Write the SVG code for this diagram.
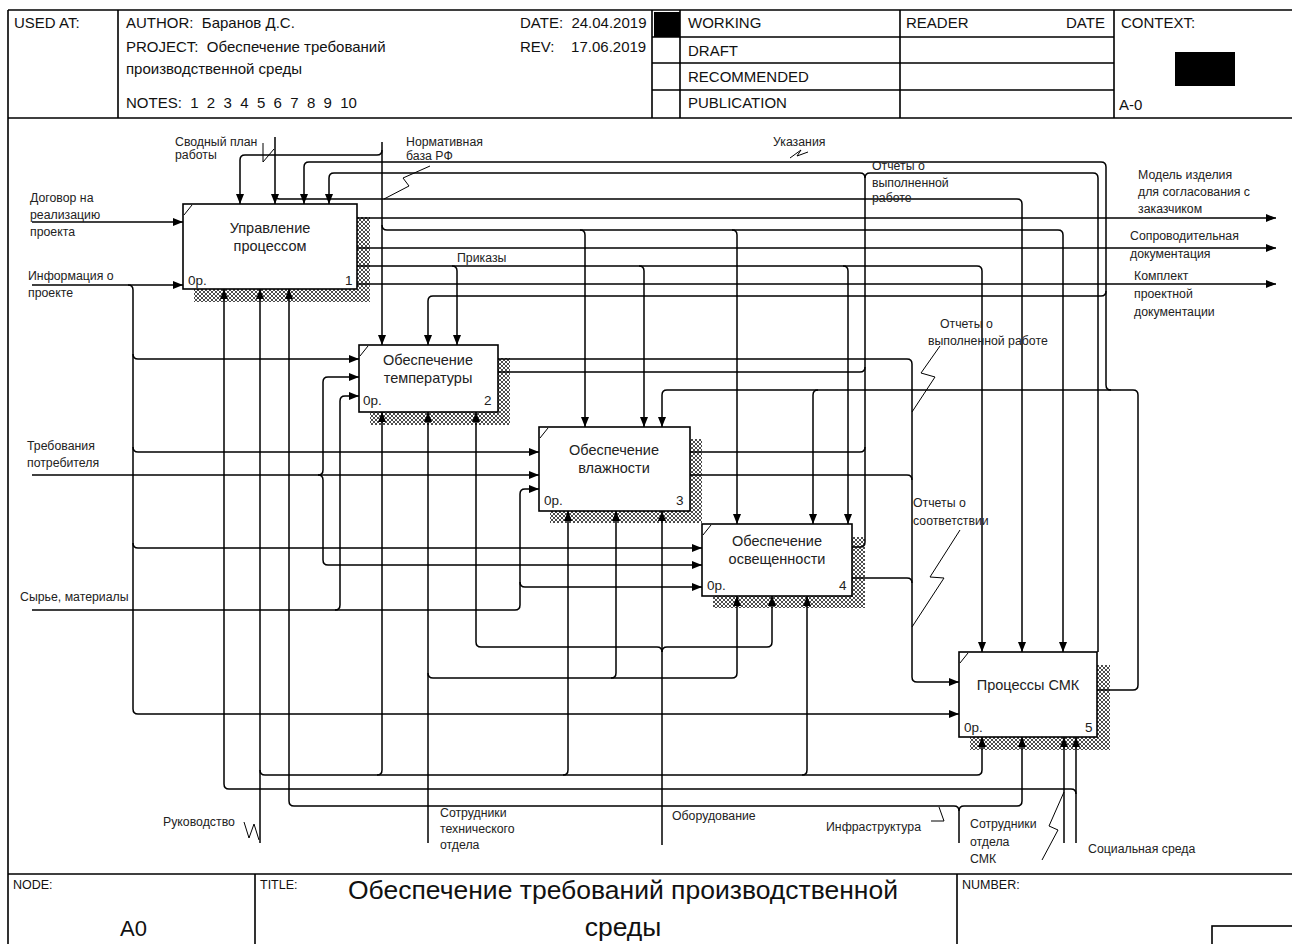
<svg xmlns="http://www.w3.org/2000/svg" width="1292" height="944" viewBox="0 0 1292 944">
<style>
.ln{fill:none;stroke:#000;stroke-width:1.5}
.ar{marker-end:url(#ah)}
.sq{fill:none;stroke:#000;stroke-width:1}
.fr{fill:none;stroke:#000;stroke-width:1.6}
.box{fill:#fff;stroke:#000;stroke-width:1.6}
.shd{fill:url(#hatch)}
text{font-family:"Liberation Sans",Arial,sans-serif;fill:#222}
.t{font-size:12.3px}
.bt{font-size:14.5px;text-anchor:middle}
.bn{font-size:13.5px}
.h{font-size:15px;fill:#111;white-space:pre}
.f{font-size:12.5px;fill:#111}
</style>
<defs>
<marker id="ah" viewBox="0 0 10 8" refX="10" refY="4" markerWidth="10" markerHeight="8" markerUnits="userSpaceOnUse" orient="auto"><path d="M0,0 L10,4 L0,8 z" fill="#000"/></marker>
<pattern id="hatch" width="4" height="4" patternUnits="userSpaceOnUse"><rect width="4" height="4" fill="#fff"/><path d="M0,0 L4,4 M4,0 L0,4" stroke="#000" stroke-width="0.7"/></pattern>
</defs>
<rect width="1292" height="944" fill="#fff"/>

<g id="frame">
<path class="fr" d="M8,10 H1292 M8,10 V944 M8,118 H1292 M118,10 V118 M652,10 V118 M680,10 V118 M900,10 V118 M1114,10 V118 M652,37 H1114 M652,63 H1114 M652,90 H1114"/>
<rect x="654" y="12" width="26" height="25" fill="#000"/>
<rect x="1175" y="52" width="60" height="34" fill="#000"/>
<text class="h" x="14" y="28">USED AT:</text>
<text class="h" x="126" y="28" xml:space="preserve">AUTHOR:  Баранов Д.С.</text>
<text class="h" x="126" y="52" xml:space="preserve">PROJECT:  Обеспечение требований</text>
<text class="h" x="126" y="74">производственной среды</text>
<text class="h" x="126" y="108" xml:space="preserve">NOTES:  1  2  3  4  5  6  7  8  9  10</text>
<text class="h" x="520" y="28" xml:space="preserve">DATE:  24.04.2019</text>
<text class="h" x="520" y="52" xml:space="preserve">REV:    17.06.2019</text>
<text class="h" x="688" y="28">WORKING</text>
<text class="h" x="688" y="56">DRAFT</text>
<text class="h" x="688" y="82">RECOMMENDED</text>
<text class="h" x="688" y="108">PUBLICATION</text>
<text class="h" x="906" y="28">READER</text>
<text class="h" x="1066" y="28">DATE</text>
<text class="h" x="1121" y="28">CONTEXT:</text>
<text class="h" x="1119" y="110">A-0</text>
<path class="fr" d="M8,874 H1292 M255,874 V944 M957,874 V944"/>
<rect x="1212" y="926" width="82" height="20" class="fr"/>
<text class="f" x="13" y="889">NODE:</text>
<text x="120" y="936" style="font-size:22px;fill:#111">A0</text>
<text class="f" x="260" y="889">TITLE:</text>
<text x="623" y="899" text-anchor="middle" style="font-size:26.5px;fill:#111">Обеспечение требований производственной</text>
<text x="623" y="936" text-anchor="middle" style="font-size:26.5px;fill:#111">среды</text>
<text class="f" x="962" y="889">NUMBER:</text>
</g>

<g id="shadows">
<rect class="shd" x="194" y="217" width="176" height="85"/>
<rect class="shd" x="370" y="358" width="140" height="67"/>
<rect class="shd" x="550" y="439" width="152" height="84"/>
<rect class="shd" x="713" y="537" width="152" height="71"/>
<rect class="shd" x="970" y="665" width="140" height="85"/>
</g>

<g id="connectors">
<path class="ln ar" d="M32,222 H183"/>
<path class="ln ar" d="M32,285 H183"/>
<path class="ln ar" d="M128,285 Q133,285 133,290 V709 Q133,714 138,714 H959"/>
<path class="ln ar" d="M133,354 Q133,359 138,359 H359"/>
<path class="ln ar" d="M133,447 Q133,452 138,452 H539"/>
<path class="ln ar" d="M133,543 Q133,548 138,548 H702"/>
<path class="ln ar" d="M32,475 H539"/>
<path class="ln ar" d="M318,475 Q323,475 323,470 V382 Q323,377 328,377 H359"/>
<path class="ln ar" d="M318,475 Q323,475 323,480 V560 Q323,565 328,565 H702"/>
<path class="ln ar" d="M32,610 H515 Q520,610 520,605 V494 Q520,489 525,489 H539"/>
<path class="ln ar" d="M520,582 Q520,587 525,587 H702"/>
<path class="ln ar" d="M335,610 Q340,610 340,605 V401 Q340,396 345,396 H359"/>

<path class="ln ar" d="M275,137 V204"/>
<path class="ln ar" d="M275,194 Q275,199 280,199 H1017 Q1022,199 1022,204 V652"/>
<path class="ln ar" d="M382,142 V345"/>
<path class="ln ar" d="M382,150 Q382,155 377,155 H245 Q240,155 240,160 V204"/>
<path class="ln ar" d="M382,225 Q382,230 387,230 H1058 Q1063,230 1063,235 V652"/>
<path class="ln ar" d="M580,230 Q585,230 585,235 V427"/>
<path class="ln ar" d="M732,230 Q737,230 737,235 V524"/>

<path class="ln ar" d="M1097,690 H1133 Q1138,690 1138,685 V395 Q1138,390 1133,390 H667 Q662,390 662,395 V427"/>
<path class="ln ar" d="M818,390 Q813,390 813,395 V524"/>
<path class="ln ar" d="M1111,390 Q1106,390 1106,385 V167 Q1106,162 1101,162 H309 Q304,162 304,167 V204"/>
<path class="ln ar" d="M1106,291 Q1106,296 1101,296 H433 Q428,296 428,301 V345"/>

<path class="ln ar" d="M852,547 H860 Q865,547 865,542 V178 Q865,173 860,173 H334 Q329,173 329,178 V204"/>
<path class="ln" d="M865,178 Q865,173 870,173 H1093 Q1098,173 1098,178 V652"/>
<path class="ln" d="M498,372 H860 Q865,372 865,367"/>
<path class="ln" d="M690,452 H860 Q865,452 865,447"/>
<path class="ln ar" d="M498,359 H907 Q912,359 912,364 V677 Q912,682 917,682 H959"/>
<path class="ln" d="M690,475 H907 Q912,475 912,480"/>
<path class="ln" d="M852,578 H907 Q912,578 912,583"/>

<path class="ln ar" d="M357,266 H977 Q982,266 982,271 V652"/>
<path class="ln ar" d="M452,266 Q457,266 457,271 V345"/>
<path class="ln ar" d="M639,266 Q644,266 644,271 V427"/>
<path class="ln ar" d="M843,266 Q848,266 848,271 V524"/>

<path class="ln ar" d="M357,218 H1276"/>
<path class="ln ar" d="M357,248 H1276"/>
<path class="ln ar" d="M357,284 H1276"/>

<path class="ln ar" d="M260,843 V289"/>
<path class="ln ar" d="M260,770 Q260,775 265,775 H977 Q982,775 982,770 V737"/>
<path class="ln ar" d="M377,775 Q382,775 382,770 V412"/>
<path class="ln ar" d="M563,775 Q568,775 568,770 V511"/>
<path class="ln ar" d="M802,775 Q807,775 807,770 V596"/>
<path class="ln ar" d="M428,843 V412"/>
<path class="ln ar" d="M428,673 Q428,678 433,678 H732 Q737,678 737,673 V596"/>
<path class="ln ar" d="M611,678 Q616,678 616,673 V511"/>
<path class="ln ar" d="M662,845 V511"/>
<path class="ln ar" d="M662,652 Q662,647 657,647 H481 Q476,647 476,642 V412"/>
<path class="ln ar" d="M662,652 Q662,647 667,647 H767 Q772,647 772,642 V596"/>
<path class="ln ar" d="M1076,843 V737"/>
<path class="ln ar" d="M1076,794 Q1076,789 1071,789 H229 Q224,789 224,784 V289"/>
<path class="ln ar" d="M1064,843 V737"/>
<path class="ln" d="M959,843 V811"/>
<path class="ln ar" d="M959,811 Q959,806 954,806 H294 Q289,806 289,801 V289"/>
<path class="ln ar" d="M959,811 Q959,806 964,806 H1017 Q1022,806 1022,801 V737"/>

<path class="sq" d="M263,143 V162 L274,149"/>
<path class="sq" d="M430,166 L403,178 L409,186 L384,199"/>
<path class="sq" d="M790,158 L801,150 L797,156 L808,152"/>
<path class="sq" d="M940,346 L921,373 L935,377 L912,412"/>
<path class="sq" d="M960,530 L930,577 L944,578 L912,627"/>
<path class="sq" d="M244,822 L249,838 L254,824 L259,840"/>
<path class="sq" d="M931,821 H944 L939,807"/>
<path class="sq" d="M1042,860 L1058,830 L1049,826 L1064,792"/>

<text class="t" x="175" y="146">Сводный план</text>
<text class="t" x="175" y="159">работы</text>
<text class="t" x="406" y="146">Нормативная</text>
<text class="t" x="406" y="160">база РФ</text>
<text class="t" x="773" y="146">Указания</text>
<text class="t" x="872" y="170">Отчеты о</text>
<text class="t" x="872" y="187">выполненной</text>
<text class="t" x="872" y="202">работе</text>
<text class="t" x="457" y="262">Приказы</text>
<text class="t" x="1138" y="179">Модель изделия</text>
<text class="t" x="1138" y="196">для согласования с</text>
<text class="t" x="1138" y="213">заказчиком</text>
<text class="t" x="1130" y="240">Сопроводительная</text>
<text class="t" x="1130" y="258">документация</text>
<text class="t" x="1134" y="280">Комплект</text>
<text class="t" x="1134" y="298">проектной</text>
<text class="t" x="1134" y="316">документации</text>
<text class="t" x="940" y="328">Отчеты о</text>
<text class="t" x="928" y="345">выполненной работе</text>
<text class="t" x="913" y="507">Отчеты о</text>
<text class="t" x="913" y="525">соответствии</text>
<text class="t" x="30" y="202">Договор на</text>
<text class="t" x="30" y="219">реализацию</text>
<text class="t" x="30" y="236">проекта</text>
<text class="t" x="28" y="280">Информация о</text>
<text class="t" x="28" y="297">проекте</text>
<text class="t" x="27" y="450">Требования</text>
<text class="t" x="27" y="467">потребителя</text>
<text class="t" x="20" y="601">Сырье, материалы</text>
<text class="t" x="163" y="826">Руководство</text>
<text class="t" x="440" y="817">Сотрудники</text>
<text class="t" x="440" y="833">технического</text>
<text class="t" x="440" y="849">отдела</text>
<text class="t" x="672" y="820">Оборудование</text>
<text class="t" x="826" y="831">Инфраструктура</text>
<text class="t" x="970" y="828">Сотрудники</text>
<text class="t" x="970" y="846">отдела</text>
<text class="t" x="970" y="863">СМК</text>
<text class="t" x="1088" y="853">Социальная среда</text>
</g>

<g id="node1">
<rect class="box" x="183" y="204" width="174" height="85"/>
<path class="sq" d="M184,215 L192,205"/>
<text class="bt" x="270" y="233">Управление</text>
<text class="bt" x="270" y="251">процессом</text>
<text class="bn" x="188" y="285">0р.</text>
<text class="bn" x="345" y="285">1</text>
</g>
<g id="node2">
<rect class="box" x="359" y="345" width="139" height="67"/>
<path class="sq" d="M360,356 L368,346"/>
<text class="bt" x="428" y="365">Обеспечение</text>
<text class="bt" x="428" y="383">температуры</text>
<text class="bn" x="363" y="405">0р.</text>
<text class="bn" x="484" y="405">2</text>
</g>
<g id="node3">
<rect class="box" x="539" y="427" width="151" height="84"/>
<path class="sq" d="M540,438 L548,428"/>
<text class="bt" x="614" y="455">Обеспечение</text>
<text class="bt" x="614" y="473">влажности</text>
<text class="bn" x="544" y="505">0р.</text>
<text class="bn" x="676" y="505">3</text>
</g>
<g id="node4">
<rect class="box" x="702" y="524" width="150" height="72"/>
<path class="sq" d="M703,535 L711,525"/>
<text class="bt" x="777" y="546">Обеспечение</text>
<text class="bt" x="777" y="564">освещенности</text>
<text class="bn" x="707" y="590">0р.</text>
<text class="bn" x="839" y="590">4</text>
</g>
<g id="node5">
<rect class="box" x="959" y="652" width="138" height="85"/>
<path class="sq" d="M960,663 L968,653"/>
<text class="bt" x="1028" y="690">Процессы СМК</text>
<text class="bn" x="964" y="732">0р.</text>
<text class="bn" x="1085" y="732">5</text>
</g>
</svg>
